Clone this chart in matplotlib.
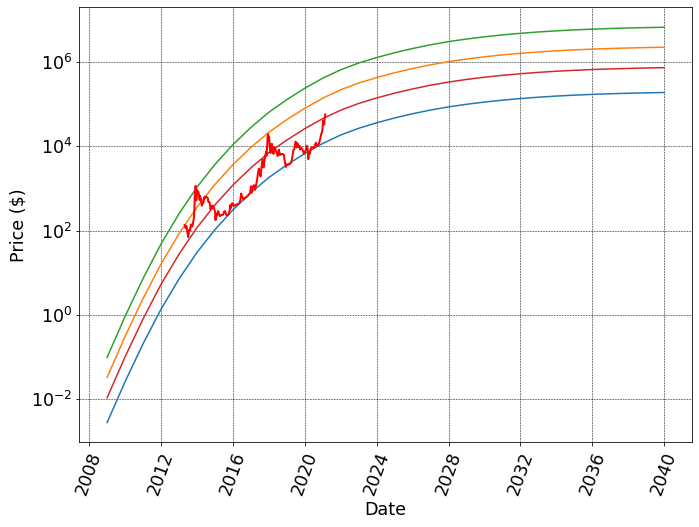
import numpy as np
import pandas as pd
import matplotlib
matplotlib.use('Agg')
from matplotlib import pyplot as plt
import matplotlib.dates as mdates
from matplotlib.ticker import NullLocator

# Model bands, one value per year (1 Jan)
band_years = list(range(2009, 2041))

band_low = [0.00275, 0.0257, 0.204, 1.35, 7.08, 30.2, 105, 309, 794, 1820,
            3630, 6760, 11750, 18620, 26920, 36310, 47320, 59570, 72950, 86700,
            100000, 113000, 125300, 136800, 147200, 156700, 164800, 171800, 177800, 182800,
            187100, 190500]

band_mid = [0.0107, 0.100, 0.794, 5.25, 27.5, 117, 407, 1202, 3090, 7080,
            14130, 26300, 45710, 72440, 104700, 141300, 184100, 231700, 283800, 337300,
            389000, 439500, 487500, 532100, 572800, 609500, 641200, 668300, 691800, 711200,
            727800, 741300]

band_high = [0.0327, 0.305, 2.43, 16.0, 84.1, 359, 1245, 3670, 9440, 21630,
             43150, 80350, 139600, 221300, 319900, 431500, 562300, 707900, 867000, 1030000,
             1189000, 1343000, 1489000, 1626000, 1750000, 1862000, 1959000, 2042000, 2113000, 2173000,
             2223000, 2265000]

band_top = [0.0977, 0.912, 7.24, 47.9, 251, 1072, 3715, 10960, 28180, 64570,
            128800, 239900, 416900, 660700, 955000, 1288000, 1679000, 2113000, 2588000, 3076000,
            3548000, 4009000, 4446000, 4853000, 5224000, 5559000, 5848000, 6095000, 6310000, 6486000,
            6637000, 6761000]

# Observed price
price_dates = [
    '2013-04-28', '2013-05-15', '2013-06-01', '2013-06-15', '2013-07-05', '2013-07-20',
    '2013-08-01', '2013-08-15', '2013-09-01', '2013-09-15', '2013-10-01', '2013-10-15',
    '2013-11-01', '2013-11-10', '2013-11-18', '2013-11-24', '2013-12-04', '2013-12-10',
    '2013-12-18', '2013-12-25', '2014-01-05', '2014-01-15', '2014-02-01', '2014-02-15',
    '2014-02-25', '2014-03-05', '2014-03-20', '2014-04-10', '2014-04-25', '2014-05-10',
    '2014-06-01', '2014-06-15', '2014-07-01', '2014-07-20', '2014-08-10', '2014-08-20',
    '2014-09-10', '2014-09-25', '2014-10-05', '2014-10-20', '2014-11-05', '2014-11-15',
    '2014-12-01', '2014-12-20', '2015-01-05', '2015-01-14', '2015-01-25', '2015-02-10',
    '2015-03-10', '2015-03-25', '2015-04-15', '2015-05-15', '2015-06-15', '2015-07-10',
    '2015-07-25', '2015-08-20', '2015-09-15', '2015-10-10', '2015-10-30', '2015-11-04',
    '2015-11-12', '2015-12-15', '2016-01-05', '2016-01-16', '2016-02-15', '2016-03-15',
    '2016-04-15', '2016-05-15', '2016-06-01', '2016-06-17', '2016-07-01', '2016-08-02',
    '2016-08-20', '2016-09-15', '2016-10-15', '2016-11-15', '2016-12-15', '2017-01-04',
    '2017-01-11', '2017-02-01', '2017-02-25', '2017-03-10', '2017-03-25', '2017-04-15',
    '2017-05-05', '2017-05-25', '2017-06-11', '2017-06-30', '2017-07-16', '2017-08-05',
    '2017-08-17', '2017-09-01', '2017-09-14', '2017-10-01', '2017-10-20', '2017-11-08',
    '2017-11-12', '2017-11-28', '2017-12-07', '2017-12-17', '2017-12-22', '2018-01-06',
    '2018-01-17', '2018-02-06', '2018-02-20', '2018-03-05', '2018-03-15', '2018-04-06',
    '2018-04-25', '2018-05-15', '2018-06-01', '2018-06-28', '2018-07-24', '2018-08-10',
    '2018-08-25', '2018-09-05', '2018-10-01', '2018-11-01', '2018-11-20', '2018-12-15',
    '2018-12-25', '2019-01-15', '2019-02-10', '2019-03-01', '2019-03-31', '2019-04-20',
    '2019-05-15', '2019-06-01', '2019-06-26', '2019-07-10', '2019-07-17', '2019-08-06',
    '2019-08-28', '2019-09-20', '2019-09-25', '2019-10-25', '2019-11-20', '2019-12-17',
    '2020-01-01', '2020-01-25', '2020-02-13', '2020-03-01', '2020-03-12', '2020-03-25',
    '2020-04-15', '2020-04-30', '2020-05-15', '2020-06-15', '2020-07-10', '2020-07-30',
    '2020-08-17', '2020-09-05', '2020-09-25', '2020-10-15', '2020-10-30', '2020-11-15',
    '2020-11-30', '2020-12-16', '2020-12-27', '2021-01-08', '2021-01-22', '2021-02-01',
    '2021-02-08', '2021-02-16', '2021-02-21']

price_values = [
    135, 114, 129, 100, 70, 90,
    105, 100, 140, 127, 125, 155,
    205, 330, 700, 800, 1150, 980,
    520, 680, 920, 850, 830, 640,
    530, 670, 580, 390, 460, 450,
    630, 590, 640, 625, 590, 480,
    480, 410, 320, 385, 340, 390,
    380, 320, 275, 178, 255, 220,
    290, 245, 220, 237, 236, 285,
    290, 235, 230, 245, 320, 400,
    335, 445, 430, 380, 400, 415,
    430, 455, 535, 760, 675, 545,
    580, 605, 640, 710, 780, 1130,
    780, 990, 1180, 1190, 930, 1180,
    1550, 2300, 2960, 2480, 1930, 3230,
    4300, 4890, 3150, 4400, 5980, 7460,
    5950, 9900, 16700, 19500, 13800, 17100,
    11100, 6950, 11200, 11500, 8200, 6640,
    9600, 8500, 7500, 5900, 8400, 6200,
    6700, 6500, 6600, 6370, 4450, 3240,
    3750, 3660, 3660, 3820, 4100, 5300,
    8200, 8550, 12900, 12600, 9400, 11800,
    9700, 10200, 8400, 9250, 8100, 6640,
    7200, 8400, 10330, 8560, 4970, 6700,
    6640, 8650, 9300, 9450, 9240, 11100,
    12250, 10280, 10700, 11500, 13500, 16000,
    19700, 21300, 26300, 40800, 33000, 33500,
    46400, 49100, 57500]

band_dates = pd.to_datetime([str(y) + '-01-01' for y in band_years])
price_dates = pd.to_datetime(price_dates)

plt.rcParams['font.size'] = 17.5

fig = plt.figure(figsize=(699 / 72, 527 / 72), dpi=72)
ax = fig.add_axes([0.1134, 0.1607, 0.9900 - 0.1134, 0.9858 - 0.1607])

ax.plot(band_dates, band_low, color='C0', lw=1.5)
ax.plot(band_dates, band_high, color='C1', lw=1.5)
ax.plot(band_dates, band_top, color='C2', lw=1.5)
ax.plot(band_dates, band_mid, color='C3', lw=1.5)
ax.plot(price_dates, price_values, color='r', lw=2)

ax.set_yscale('log')
ax.set_yticks([1e-2, 1e0, 1e2, 1e4, 1e6])
ax.yaxis.set_minor_locator(NullLocator())
ax.xaxis.set_major_locator(mdates.YearLocator(4))
ax.xaxis.set_major_formatter(mdates.DateFormatter('%Y'))
plt.setp(ax.get_xticklabels(), rotation=70)

ax.grid(True, color='k', linestyle='--', linewidth=0.5)
ax.set_xlabel('Date')
ax.set_ylabel('Price ($)')

fig.savefig('out.png', dpi=72)
